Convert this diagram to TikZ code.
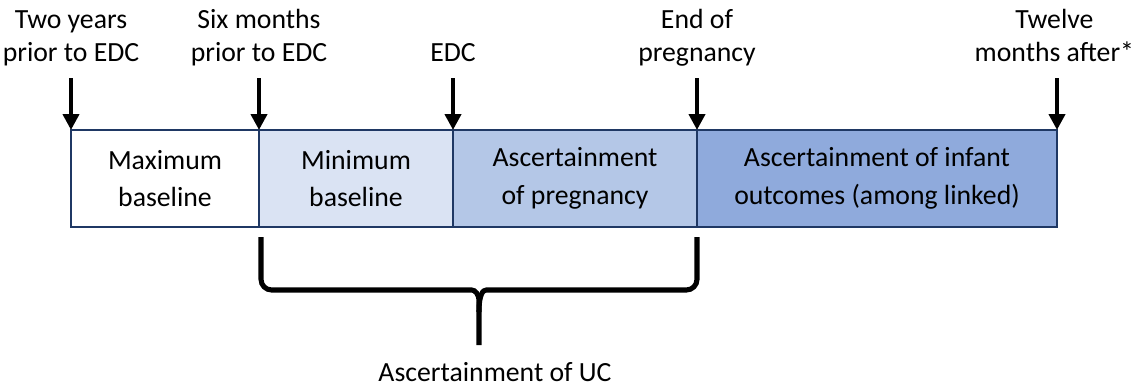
\documentclass[tikz,border=0pt]{standalone}
\usepackage{fontspec}
\setmainfont{Carlito}
\usetikzlibrary{arrows.meta,positioning,calc}
\definecolor{boxline}{RGB}{31,56,100}
\definecolor{paleblue}{RGB}{218,227,243}
\definecolor{midblue}{RGB}{180,199,231}
\definecolor{deepblue}{RGB}{143,170,220}

\begin{document}
\begin{tikzpicture}[x=0.75pt, y=-0.75pt,
    period/.style={rectangle, draw=boxline, line width=1.5pt, outer sep=0pt, inner sep=0pt,
        minimum height=97*0.75pt, align=center, font=\fontsize{20.8}{28}\selectfont},
    timetext/.style={align=center, inner sep=0pt, text depth=5pt, font=\fontsize{20.8}{25}\selectfont},
    pointer/.style={-{Triangle[length=12pt,width=12pt]}, line width=3pt},
    bracket/.style={line width=3.8pt, rounded corners=8pt}]
    \useasboundingbox (0,0) rectangle (1141,390);
    % the four periods
    \node [period, fill=white, minimum width=188*0.75pt, anchor=north west] (maxbase) at (71,130) {Maximum\\baseline};
    \node [period, fill=paleblue, minimum width=194*0.75pt, right=0pt of maxbase] (minbase) {Minimum\\baseline};
    \node [period, fill=midblue, minimum width=244*0.75pt, right=0pt of minbase] (pregnancy) {Ascertainment\\of pregnancy};
    \node [period, fill=deepblue, minimum width=360*0.75pt, right=0pt of pregnancy] (infant) {Ascertainment of infant\\outcomes (among linked)};
    % time points
    \coordinate (t1) at ($(maxbase.north west)+(0,-52)$);
    \coordinate (t2) at ($(minbase.north west)+(0,-52)$);
    \coordinate (t3) at ($(pregnancy.north west)+(0,-52)$);
    \coordinate (t4) at ($(infant.north west)+(0,-52)$);
    \coordinate (t5) at ($(infant.north east)+(0,-52)$);
    \node [timetext, above=7pt of t1] (twoyears) {Two years\\prior to EDC};
    \node [timetext, above=7pt of t2] (sixmonths) {Six months\\prior to EDC};
    \node [timetext, above=7pt of t3] (edc) {EDC};
    \node [timetext, above=7pt of t4] (endpreg) {End of\\pregnancy};
    \node [timetext, above=7pt of t5, xshift=-2pt] (twelve) {Twelve\\months after*};
    \draw[pointer] (t1) -- (maxbase.north west);
    \draw[pointer] (t2) -- (minbase.north west);
    \draw[pointer] (t3) -- (pregnancy.north west);
    \draw[pointer] (t4) -- (infant.north west);
    \draw[pointer] (t5) -- (infant.north east);
    % brace under baseline + pregnancy
    \coordinate (bl) at ($(minbase.south west)+(2,10)$);
    \coordinate (br) at ($(pregnancy.south east)+(0,10)$);
    \coordinate (mid) at ($(bl)!0.5!(br)+(0,53)$);
    \coordinate (tip) at ($(mid)+(0,55)$);
    \draw[bracket] (bl) |- ($(mid)+(-18,0)$) .. controls ($(mid)+(-4,0)$) and ($(mid)+(0,4)$) .. ($(mid)+(0,22)$) -- (tip);
    \draw[bracket] (br) |- ($(mid)+(18,0)$) .. controls ($(mid)+(4,0)$) and ($(mid)+(0,4)$) .. ($(mid)+(0,22)$);
    \node [timetext, text depth=0pt, below=13pt of tip, xshift=12pt] (uc) {Ascertainment of UC};
\end{tikzpicture}
\end{document}
